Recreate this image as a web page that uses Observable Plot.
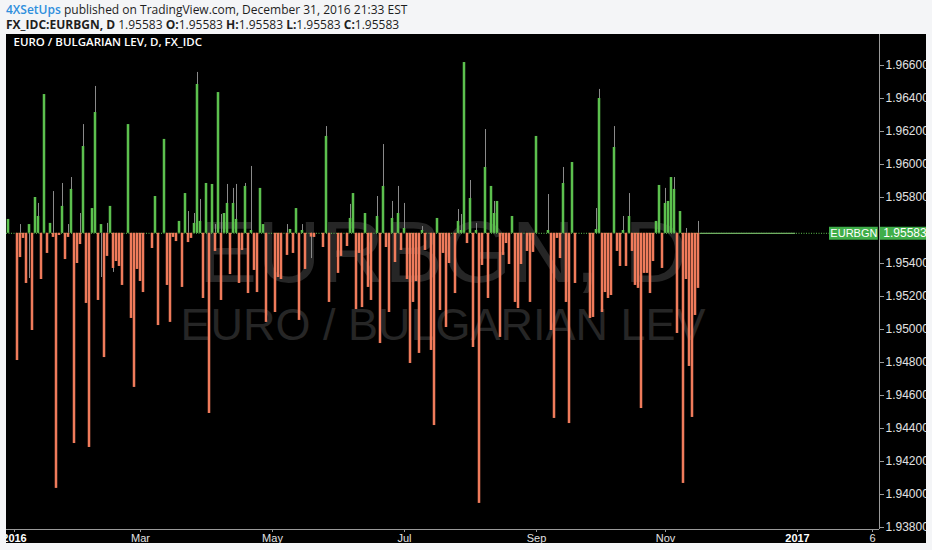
<!DOCTYPE html>
<html><head><meta charset="utf-8">
<script src="https://cdn.jsdelivr.net/npm/d3@7"></script>
<script src="https://cdn.jsdelivr.net/npm/@observablehq/plot@0.6"></script>
<style>
html,body{margin:0;padding:0;background:#f4f5f7;width:932px;height:550px;overflow:hidden;}
#hdr{position:absolute;left:6px;top:2px;font-family:"Open Sans",sans-serif;font-size:12px;color:#1e1e1e;white-space:nowrap;}
#hdr .l{height:15px;line-height:15px;}
#panel{position:absolute;left:6px;top:34px;width:920px;height:509px;background:#000;overflow:hidden;}
#panel svg{display:block;}
</style></head><body>
<div id="hdr"><div class="l" id="h1"></div><div class="l" id="h2"></div></div>
<div id="panel"></div>
<script>
// ---- text ----
const author = "4XSetUps";
const published = " published on TradingView.com, December 31, 2016 21:33 EST";
const symbolLine = "FX_IDC:EURBGN, D";
const ohlcKeys = ["O", "H", "L", "C"];
const ohlcVals = [1.95583, 1.95583, 1.95583, 1.95583];
const panelTitle = "EURO / BULGARIAN LEV, D, FX_IDC";
const watermark1 = "EURBGN, D";
const watermark2 = "EURO / BULGARIAN LEV";
const tagName = "EURBGN";

// ---- scale data ----
const openPrice = 1.95583;
const yTicks = [1.938, 1.940, 1.942, 1.944, 1.946, 1.948, 1.950, 1.952, 1.954, 1.958, 1.960, 1.962, 1.964, 1.966];
// x = trading-day index from 1 Jan 2016
const xTickIdx = [0, 42, 86, 130, 174, 217, 261, 286];
const xTickLab = ["2016", "Mar", "May", "Jul", "Sep", "Nov", "2017", "6"];
const xTickBold = [true, false, false, false, false, false, true, false];
const flatStart = 229, flatEnd = 260;

// ---- candles: day index + close ----
const barIdx = [-2,1,2,3,4,5,6,7,8,9,10,11,12,13,14,15,16,17,18,19,20,21,22,23,24,25,26,27,28,29,30,31,32,33,34,35,36,38,39,40,41,42,43,46,47,48,50,51,52,53,54,55,56,57,58,59,60,61,62,63,64,65,66,67,68,69,70,71,72,73,74,75,76,77,78,79,80,81,82,83,84,87,88,89,91,92,93,94,95,96,97,99,100,103,104,105,108,109,111,112,113,114,115,116,117,118,119,121,122,123,124,125,126,127,128,129,130,131,132,133,134,135,136,137,139,140,141,142,143,144,145,147,148,149,150,151,152,153,154,155,156,157,158,159,160,161,162,163,164,165,166,167,168,169,171,172,173,174,178,179,180,181,182,183,184,185,186,187,192,193,194,195,196,197,198,199,200,201,202,203,204,205,206,207,208,209,210,211,212,213,214,215,216,217,218,219,220,221,222,223,224,225,226,227,228];
const barClose = [1.95667,1.94812,1.95436,1.95552,1.95279,1.95636,1.94994,1.95800,1.95685,1.95303,1.96424,1.95461,1.95643,1.95558,1.94037,1.95570,1.95746,1.95424,1.95558,1.95849,1.94309,1.95400,1.95515,1.96109,1.95158,1.94285,1.95733,1.96315,1.95176,1.95636,1.94830,1.95443,1.95746,1.95370,1.95412,1.95382,1.95267,1.96242,1.95067,1.94649,1.95364,1.95291,1.95224,1.95491,1.95806,1.95024,1.96152,1.95267,1.95043,1.95558,1.95533,1.95655,1.95255,1.95824,1.95527,1.95552,1.95643,1.96485,1.95655,1.95188,1.95885,1.94491,1.95879,1.95473,1.96436,1.95176,1.95703,1.95764,1.95333,1.95764,1.95667,1.95279,1.95479,1.95867,1.95218,1.95600,1.95358,1.95224,1.95855,1.95636,1.95043,1.95103,1.95315,1.95303,1.95449,1.95606,1.95461,1.95733,1.95055,1.95600,1.95364,1.95560,1.95558,1.95497,1.96170,1.95164,1.95340,1.95443,1.95503,1.95673,1.95824,1.95121,1.95461,1.95133,1.95703,1.95255,1.95176,1.95685,1.94915,1.95867,1.95497,1.95103,1.95673,1.95406,1.95703,1.95479,1.95612,1.95303,1.94794,1.95164,1.95291,1.94855,1.95600,1.95479,1.94873,1.94418,1.95673,1.95115,1.95461,1.95012,1.95400,1.95218,1.95655,1.95600,1.96618,1.95521,1.95794,1.94891,1.95600,1.93946,1.95388,1.95982,1.95188,1.95867,1.95703,1.95776,1.94952,1.95449,1.95521,1.95394,1.95685,1.95164,1.95127,1.95394,1.95473,1.95164,1.95467,1.96170,1.95600,1.94994,1.94461,1.95552,1.95430,1.95885,1.95164,1.94430,1.96012,1.95279,1.95067,1.95073,1.95606,1.96400,1.95103,1.95224,1.95188,1.95206,1.96103,1.95473,1.95382,1.95600,1.95382,1.95685,1.95473,1.95267,1.95249,1.94521,1.95340,1.95340,1.95218,1.95412,1.95655,1.95873,1.95370,1.95764,1.95776,1.95921,1.95849,1.94976,1.95715,1.94067,1.95303,1.94776,1.94467,1.95085,1.95249];
// upper wicks
const highIdx = [2,8,13,16,18,19,22,23,27,31,58,60,61,62,67,69,71,73,74,77,79,91,96,104,112,121,123,126,128,130,136,148,149,152,154,157,160,178,183,194,195,200,203,205,217,220,224,228];
const highVal = [1.95636,1.95764,1.95836,1.95885,1.95636,1.95921,1.95703,1.96242,1.96473,1.95643,1.95715,1.95703,1.96558,1.95788,1.95636,1.95697,1.95879,1.95855,1.95879,1.95885,1.95988,1.95636,1.95636,1.96230,1.95758,1.95806,1.96121,1.95776,1.95867,1.95764,1.95624,1.95727,1.95697,1.95903,1.95643,1.96212,1.95776,1.95818,1.95982,1.95733,1.96455,1.96230,1.95685,1.95824,1.95855,1.95921,1.95612,1.95655];
// lower wicks
const lowIdx = [5,29,33,99];
const lowVal = [1.95309,1.95315,1.95346,1.95430];

// ---- colors ----
const upColor = "#5cc04e", downColor = "#ef7b5b", wickColor = "#8a8a8a", axisColor = "#9a9a9a", labelColor = "#e2e2e2";

// header
const h1 = document.getElementById("h1");
h1.innerHTML = `<span style="color:#2f8fdd;font-weight:600">${author}</span>${published}`;
const h2 = document.getElementById("h2");
h2.innerHTML = `<b style="font-weight:700">${symbolLine}</b> ${openPrice.toFixed(5)} ` +
  ohlcKeys.map((k, j) => `<b style="font-weight:700">${k}:</b>${ohlcVals[j].toFixed(5)}`).join(" ");

// ---- build ----
const bars = barIdx.map((i, k) => ({i, o: openPrice, c: barClose[k]}));
const highs = highIdx.map((i, k) => ({i, v: highVal[k]}));
const lows = lowIdx.map((i, k) => ({i, v: lowVal[k]}));

const W = 920, H = 509, mR = 47, mB = 14;
const pxPerBar = 3, firstBarPx = 8;
const xMin = -firstBarPx / pxPerBar, xMax = (W - mR - firstBarPx) / pxPerBar;
const pxPerUnit = 16500, y1966 = 31;
const yMax = 1.966 + y1966 / pxPerUnit, yMin = 1.966 - (H - mB - y1966) / pxPerUnit;

const tagW = 50 / pxPerBar;
const sans = "'Liberation Sans', Arial, sans-serif";
const halfBody = 0.42;

const chart = Plot.plot({
  width: W, height: H,
  marginTop: 0, marginLeft: 0, marginRight: mR, marginBottom: mB,
  style: {background: "#000", color: labelColor, fontFamily: sans, fontSize: "12px", overflow: "hidden"},
  x: {type: "linear", domain: [xMin, xMax], axis: null},
  y: {type: "linear", domain: [yMin, yMax], axis: null},
  marks: [
    Plot.text([watermark1], {frameAnchor: "middle", dy: -28, fontSize: 88, fill: "#262626", fontFamily: sans}),
    Plot.text([watermark2], {frameAnchor: "middle", dy: 44, fontSize: 45, fill: "#262626", fontFamily: sans}),
    Plot.text([panelTitle], {frameAnchor: "top-left", dx: 7, dy: 8, lineAnchor: "middle", textAnchor: "start", fill: "#ffffff", fontSize: 11.5, fontWeight: 600, fontFamily: "'Open Sans', sans-serif"}),
    Plot.ruleY([openPrice], {x1: xMin, x2: xMax - tagW, stroke: upColor, strokeDasharray: "1,1.5", strokeWidth: 1}),
    Plot.ruleY([openPrice], {x1: flatStart - 0.4, x2: flatEnd + 0.4, stroke: "#6fae62", strokeWidth: 1.2}),
    Plot.ruleX(highs, {x: "i", y1: openPrice, y2: "v", stroke: wickColor, strokeWidth: 1}),
    Plot.ruleX(lows, {x: "i", y1: openPrice, y2: "v", stroke: wickColor, strokeWidth: 1}),
    Plot.rect(bars, {x1: d => d.i - halfBody, x2: d => d.i + halfBody, y1: "o", y2: "c", fill: d => d.c >= d.o ? upColor : downColor}),
    Plot.ruleX([xMax], {stroke: axisColor, strokeWidth: 1}),
    Plot.ruleY([yMin], {stroke: axisColor, strokeWidth: 1}),
    Plot.axisY(yTicks, {anchor: "right", tickSize: 4, tickPadding: 2, tickFormat: d => d.toFixed(5), stroke: axisColor, fill: labelColor, fontSize: 12, fontFamily: sans, label: null}),
    Plot.axisX(xTickIdx.filter((d, j) => !xTickBold[j]), {anchor: "bottom", tickSize: 3, tickPadding: 2, tickFormat: d => xTickLab[xTickIdx.indexOf(d)], stroke: axisColor, fill: labelColor, fontSize: 11, fontFamily: sans, label: null}),
    Plot.axisX(xTickIdx.filter((d, j) => xTickBold[j]), {anchor: "bottom", tickSize: 3, tickPadding: 2, tickFormat: d => xTickLab[xTickIdx.indexOf(d)], stroke: axisColor, fill: "#ffffff", fontWeight: "bold", fontSize: 11, fontFamily: sans, label: null}),
    // last price tags
    Plot.ruleY([openPrice], {x1: xMax - tagW, x2: xMax - 0.4, stroke: "#3fae49", strokeWidth: 13}),
    Plot.text([openPrice], {x: xMax - tagW / 2 - 0.2, y: d => d, text: () => tagName, fill: "#ffffff", fontSize: 11, fontFamily: sans}),
    Plot.ruleY([openPrice], {x1: xMax + 0.3, x2: xMax + mR / pxPerBar, stroke: "#3fae49", strokeWidth: 13}),
    Plot.text([openPrice], {x: xMax + 0.6, y: d => d, text: d => d.toFixed(5), textAnchor: "start", dx: 2, fill: "#ffffff", fontSize: 12, fontFamily: sans})
  ]
});
document.getElementById("panel").appendChild(chart);
</script>
</body></html>
